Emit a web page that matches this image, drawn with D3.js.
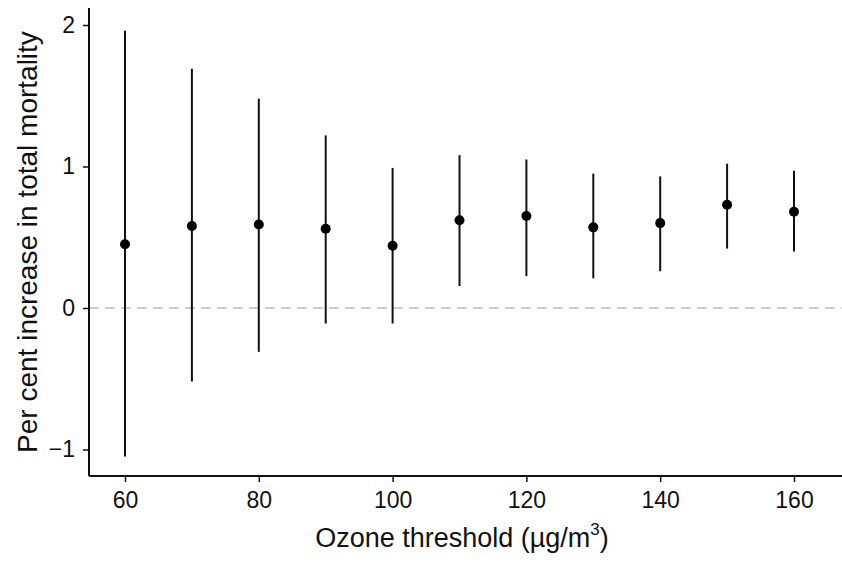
<!DOCTYPE html>
<html>
<head>
<meta charset="utf-8">
<script src="https://cdn.jsdelivr.net/npm/d3@7"></script>
<style>
  body { margin: 0; background: #fff; }
  text { font-family: "Liberation Sans", Arial, sans-serif; fill: #111; }
</style>
</head>
<body>
<script>
// ozone thresholds and estimates
const thresholds = [60, 70, 80, 90, 100, 110, 120, 130, 140, 150, 160];
const estimates  = [0.45, 0.58, 0.59, 0.56, 0.44, 0.62, 0.65, 0.57, 0.60, 0.73, 0.68];
const lowerCI    = [-1.05, -0.52, -0.31, -0.11, -0.11, 0.155, 0.225, 0.21, 0.26, 0.42, 0.40];
const upperCI    = [1.96, 1.69, 1.48, 1.22, 0.99, 1.08, 1.05, 0.95, 0.93, 1.02, 0.97];
const xTicks = [60, 80, 100, 120, 140, 160];
const yTicks = [-1, 0, 1, 2];

const w = 842;
const h = 562;

const data = thresholds.map((t, i) => ({ t: t, est: estimates[i], lo: lowerCI[i], hi: upperCI[i] }));

const xScale = d3.scaleLinear()
  .domain([60, 160])
  .range([125, 794]);

const yScale = d3.scaleLinear()
  .domain([-1, 2])
  .range([449.5, 25]);

const axisLeftX = 89;
const axisBottomY = 476;

const svg = d3.select("body")
  .append("svg")
  .attr("width", w)
  .attr("height", h);

// zero reference line
svg.append("line")
  .attr("x1", axisLeftX)
  .attr("x2", w)
  .attr("y1", yScale(0))
  .attr("y2", yScale(0))
  .attr("stroke", "#bdbdbd")
  .attr("stroke-width", 1.6)
  .attr("stroke-dasharray", "10,6");

// axes
const xAxis = d3.axisBottom(xScale)
  .tickValues(xTicks)
  .tickFormat(d3.format("d"))
  .tickSize(6)
  .tickSizeOuter(0);

const xg = svg.append("g")
  .attr("transform", "translate(0," + axisBottomY + ")")
  .call(xAxis)
  .attr("font-size", 23)
  .attr("font-family", "'Liberation Sans', Arial, sans-serif");
xg.select(".domain").remove();
xg.append("line")
  .attr("x1", axisLeftX)
  .attr("x2", w)
  .attr("stroke", "#111")
  .attr("stroke-width", 2);

const yAxis = d3.axisLeft(yScale)
  .tickValues(yTicks)
  .tickFormat(d3.format("d"))
  .tickSize(6)
  .tickSizeOuter(0);

const yg = svg.append("g")
  .attr("transform", "translate(" + axisLeftX + ",0)")
  .call(yAxis)
  .attr("font-size", 23)
  .attr("font-family", "'Liberation Sans', Arial, sans-serif");
yg.select(".domain").remove();
yg.append("line")
  .attr("y1", 8)
  .attr("y2", axisBottomY)
  .attr("stroke", "#111")
  .attr("stroke-width", 2);

svg.selectAll(".tick line").attr("stroke", "#111").attr("stroke-width", 1.5);
svg.selectAll(".tick text").attr("fill", "#111");
xg.selectAll(".tick text").attr("y", 32).attr("dy", 0);
yg.selectAll(".tick text").attr("x", -14);

// error bars
svg.selectAll(".ci")
  .data(data)
  .enter()
  .append("line")
  .attr("class", "ci")
  .attr("x1", d => xScale(d.t))
  .attr("x2", d => xScale(d.t))
  .attr("y1", d => yScale(d.lo))
  .attr("y2", d => yScale(d.hi))
  .attr("stroke", "#111")
  .attr("stroke-width", 2);

// point estimates
svg.selectAll(".pt")
  .data(data)
  .enter()
  .append("circle")
  .attr("class", "pt")
  .attr("cx", d => xScale(d.t))
  .attr("cy", d => yScale(d.est))
  .attr("r", 5)
  .attr("fill", "#000");

// axis titles
const xTitle = svg.append("text")
  .attr("x", 462)
  .attr("y", 547)
  .attr("text-anchor", "middle")
  .attr("font-size", 27);
xTitle.append("tspan").text("Ozone threshold (\u00b5g/m");
xTitle.append("tspan").attr("font-size", 17).attr("dy", -12).text("3");
xTitle.append("tspan").attr("dy", 12).text(")");

svg.append("text")
  .attr("transform", "translate(37,242) rotate(-90)")
  .attr("text-anchor", "middle")
  .attr("font-size", 28)
  .text("Per cent increase in total mortality");
</script>
</body>
</html>
